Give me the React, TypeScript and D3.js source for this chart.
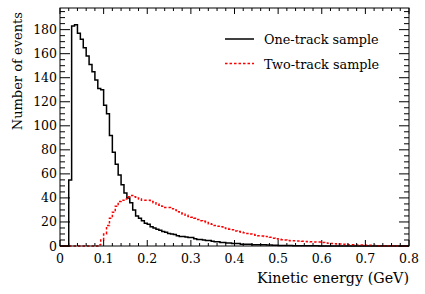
import React from "react";
import * as d3 from "d3";

const BIN_COUNT = 120;
const X_MIN = 0;
const X_MAX = 0.8;
const Y_MAX = 198;

const oneTrack = [
  0, 0, 0, 55, 183, 184, 177, 172, 165, 158, 151, 145, 138, 131, 130, 117, 110, 92, 78, 68,
  59, 51, 44, 40, 36, 30, 25, 23, 21, 19, 18, 16, 15, 14, 13, 12, 11.5, 10.5, 10, 9.5,
  8.5, 8, 8, 7.5, 7, 7, 6, 5.5, 5.5, 5, 4.5, 4.5, 4, 3.5, 3.5, 3, 3, 2.5, 2.5, 2,
  2, 2, 1.5, 1.5, 1.5, 1.5, 1, 1, 1, 1, 1, 0.8, 0.8, 0.6, 0.6, 0.5, 0.5, 0.4, 0.4, 0.4,
  0.3, 0.3, 0.3, 0.3, 0.2, 0.2, 0.2, 0.2, 0.2, 0.1, 0.1, 0.1, 0.1, 0.1, 0.1, 0.1, 0.1, 0, 0, 0,
  0.1, 0, 0, 0, 0, 0, 0.1, 0, 0, 0, 0, 0, 0, 0, 0, 0, 0, 0, 0, 0,
];

const twoTrack = [
  0, 0, 0, 0, 0, 0, 0, 0, 0, 0, 0, 0, 0, 1, 5, 10, 17, 23, 28, 33,
  37, 38, 39, 41, 42, 41, 40, 39, 38, 38, 38, 37, 36, 35, 34, 33, 32, 32, 31, 30,
  28.5, 27.5, 26.5, 25.5, 24.5, 24, 23, 22, 21, 20.5, 19.5, 18.5, 18, 17, 16.5, 16, 15, 14.5, 14, 13.5,
  12.5, 12, 11.5, 11, 10.5, 10, 9.5, 9, 8.5, 8.3, 8, 7.8, 7.2, 6.5, 6, 5.6, 5.3, 5, 4.6, 4.4,
  4.3, 4.2, 4.2, 4, 3.8, 3.6, 3.5, 3.4, 3.3, 3.3, 3, 2.6, 2.3, 2.1, 1.9, 1.7, 1.7, 1.4, 1.2, 1.1,
  1, 0.9, 0.8, 0.8, 0.7, 0.6, 0.6, 0.5, 0.4, 0.3, 0.3, 0.3, 0.3, 0.3, 0.2, 0.2, 0.1, 0.1, 0, 0,
];

const xTickLabels = ["0", "0.1", "0.2", "0.3", "0.4", "0.5", "0.6", "0.7", "0.8"];
const yTickValues = [0, 20, 40, 60, 80, 100, 120, 140, 160, 180];
const seriesNames = ["One-track sample", "Two-track sample"];
const xTitle = "Kinetic energy (GeV)";
const yTitle = "Number of events";

const W = 425;
const H = 294;
const left = 60;
const right = 409;
const top = 8;
const bottom = 246;
const FONT = "DejaVu Serif";

export default function App() {
  const x = d3.scaleLinear().domain([X_MIN, X_MAX]).range([left, right]);
  const y = d3.scaleLinear().domain([0, Y_MAX]).range([bottom, top]);
  const bw = (X_MAX - X_MIN) / BIN_COUNT;

  const stepPts = (vals: number[]) => {
    const pts: [number, number][] = [];
    vals.forEach((v, i) => {
      pts.push([X_MIN + i * bw, v]);
      pts.push([X_MIN + (i + 1) * bw, v]);
    });
    return pts;
  };
  const line = d3
    .line<[number, number]>()
    .x((d) => x(d[0]))
    .y((d) => y(d[1]));

  const xMinor = d3.range(0, 41).map((i) => i * 0.02);
  const yMinor = d3.range(0, 40).map((i) => i * 5);

  return (
    <svg
      width={W}
      height={H}
      style={{ position: "absolute", left: 0, top: 0, background: "#fff" }}
    >
      <rect x={0} y={0} width={W} height={H} fill="#fff" />
      <path d={line(stepPts(oneTrack)) || ""} fill="none" stroke="#000" strokeWidth={1.5} />
      <path
        d={line(stepPts(twoTrack)) || ""}
        fill="none"
        stroke="#ff0000"
        strokeWidth={1.5}
        strokeDasharray="2.5,2"
      />
      <rect x={left} y={top} width={right - left} height={bottom - top} fill="none" stroke="#000" strokeWidth={1} />
      {xMinor.map((v, i) => {
        const major = i % 5 === 0;
        const len = major ? 6 : 3;
        const px = x(v);
        return (
          <g key={"xt" + i}>
            <line x1={px} x2={px} y1={bottom} y2={bottom - len} stroke="#000" strokeWidth={1} />
            <line x1={px} x2={px} y1={top} y2={top + len} stroke="#000" strokeWidth={1} />
          </g>
        );
      })}
      {yMinor.map((v, i) => {
        const major = i % 4 === 0;
        const len = major ? 10 : 5;
        const py = y(v);
        return (
          <g key={"yt" + i}>
            <line x1={left} x2={left + len} y1={py} y2={py} stroke="#000" strokeWidth={1} />
            <line x1={right} x2={right - len} y1={py} y2={py} stroke="#000" strokeWidth={1} />
          </g>
        );
      })}
      {xTickLabels.map((t, i) => (
        <text key={"xl" + i} x={x(i * 0.1)} y={263} fontSize={12.5} textAnchor="middle" fill="#000" fontFamily={FONT}>
          {t}
        </text>
      ))}
      {yTickValues.map((v) => (
        <text key={"yl" + v} x={57} y={y(v) + 4.5} fontSize={12.5} textAnchor="end" fill="#000" fontFamily={FONT}>
          {v}
        </text>
      ))}
      <text x={right} y={283} fontSize={14.3} textAnchor="end" fill="#000" fontFamily={FONT}>
        {xTitle}
      </text>
      <text
        transform={`translate(22, ${top + 4}) rotate(-90)`}
        fontSize={13}
        textAnchor="end"
        fill="#000"
        fontFamily={FONT}
      >
        {yTitle}
      </text>
      <line x1={225} x2={254} y1={39} y2={39} stroke="#000" strokeWidth={1.5} />
      <text x={264} y={44} fontSize={12.8} fill="#000" fontFamily={FONT}>
        {seriesNames[0]}
      </text>
      <line x1={225} x2={254} y1={63.5} y2={63.5} stroke="#ff0000" strokeWidth={1.5} strokeDasharray="2.5,2" />
      <text x={264} y={68.5} fontSize={12.8} fill="#000" fontFamily={FONT}>
        {seriesNames[1]}
      </text>
    </svg>
  );
}
